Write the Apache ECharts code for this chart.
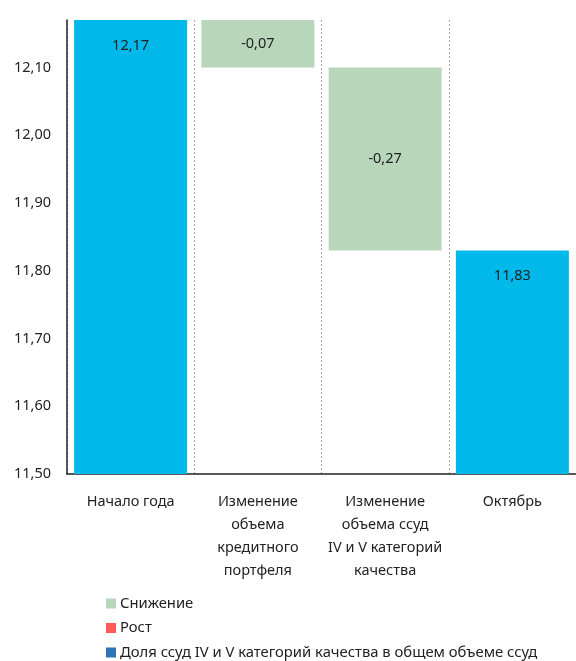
<!DOCTYPE html>
<html>
<head>
<meta charset="utf-8">
<script src="https://cdn.jsdelivr.net/npm/echarts@6/dist/echarts.min.js"></script>
<style>
  html, body { margin: 0; padding: 0; background: #fff; }
  #chart { width: 576px; height: 661px; }
</style>
</head>
<body>
<div id="chart"></div>
<script>
// Waterfall: share of category IV and V loans in total loans, %
const categories = [
  'Начало года',
  'Изменение\nобъема\nкредитного\nпортфеля',
  'Изменение\nобъема ссуд\nIV и V категорий\nкачества',
  'Октябрь'
];
const levelValues = [12.17, null, null, 11.83];      // start / end levels
const decreaseValues = [null, -0.07, -0.27, null];   // "Снижение"
const increaseValues = [null, null, null, null];     // "Рост"
const yTicks = [11.5, 11.6, 11.7, 11.8, 11.9, 12.0, 12.1];

// running level before each step, used as an invisible base for the floating bars
const baseValues = [];
let running = 0;
categories.forEach((c, i) => {
  if (levelValues[i] != null) {
    baseValues.push(0);
    running = levelValues[i];
  } else {
    const d = (decreaseValues[i] || 0) + (increaseValues[i] || 0);
    const low = Math.min(running, running + d);
    baseValues.push(+low.toFixed(4));
    running = +(running + d).toFixed(4);
  }
});

const fmt = v => v.toFixed(2).replace('.', ',');
const FONT = '"Noto Sans", sans-serif';
const FS = 14.5;

const chart = echarts.init(document.getElementById('chart'), null, { renderer: 'canvas' });
chart.setOption({
  animation: false,
  textStyle: { fontFamily: FONT },
  grid: { left: 67, right: 0, top: 20, bottom: 187, containLabel: false },
  legend: {
    orient: 'vertical',
    left: 106,
    top: 596,
    padding: 0,
    height: 100,
    itemWidth: 10,
    itemHeight: 10,
    itemGap: 9.5,
    icon: 'rect',
    data: ['Снижение', 'Рост', 'Доля ссуд IV и V категорий качества в общем объеме ссуд'],
    textStyle: { fontSize: 14.8, color: '#222', fontFamily: FONT, lineHeight: 14, padding: [0, 0, 0, -1] }
  },
  xAxis: {
    type: 'category',
    data: categories,
    axisLine: { show: true, lineStyle: { color: '#222', width: 1.5 } },
    axisTick: { show: false },
    splitLine: { show: true, lineStyle: { color: '#aaa', type: [2, 2], width: 1 } },
    axisLabel: {
      interval: 0, margin: 16, fontSize: FS, color: '#222', lineHeight: 23, fontFamily: FONT
    }
  },
  yAxis: {
    type: 'value',
    min: 11.5,
    max: 12.17,
    interval: 0.1,
    axisLine: { show: true, lineStyle: { color: '#222', width: 1.5 } },
    axisTick: { show: false },
    splitLine: { show: false },
    axisLabel: {
      showMaxLabel: false,
      margin: 16,
      fontSize: FS,
      color: '#222',
      fontFamily: FONT,
      formatter: v => yTicks.some(t => Math.abs(t - v) < 1e-6) ? fmt(v) : ''
    }
  },
  series: [
    {
      name: 'base',
      type: 'bar',
      stack: 'w',
      barWidth: 113,
      silent: true,
      itemStyle: { color: 'transparent' },
      data: baseValues.map(v => v === 0 ? '-' : v)
    },
    {
      name: 'Снижение',
      type: 'bar',
      stack: 'w',
      barWidth: 113,
      itemStyle: { color: '#b7d6ba' },
      label: {
        show: true, position: 'inside', fontSize: FS, color: '#222', fontFamily: FONT,
        formatter: p => fmt(decreaseValues[p.dataIndex])
      },
      data: decreaseValues.map(v => v == null ? '-' : Math.abs(v))
    },
    {
      name: 'Рост',
      type: 'bar',
      stack: 'w',
      barWidth: 113,
      itemStyle: { color: '#ff5a5a' },
      data: increaseValues.map(v => v == null ? '-' : v)
    },
    {
      name: 'Доля ссуд IV и V категорий качества в общем объеме ссуд',
      type: 'bar',
      stack: 'w',
      barWidth: 113,
      itemStyle: { color: '#2e75b6' },
      label: {
        show: true, position: 'insideTop', distance: 18, fontSize: FS, color: '#222', fontFamily: FONT,
        formatter: p => fmt(p.value)
      },
      data: levelValues.map(v => v == null ? '-' : { value: v, itemStyle: { color: '#00b9eb' } })
    }
  ]
});
</script>
</body>
</html>
